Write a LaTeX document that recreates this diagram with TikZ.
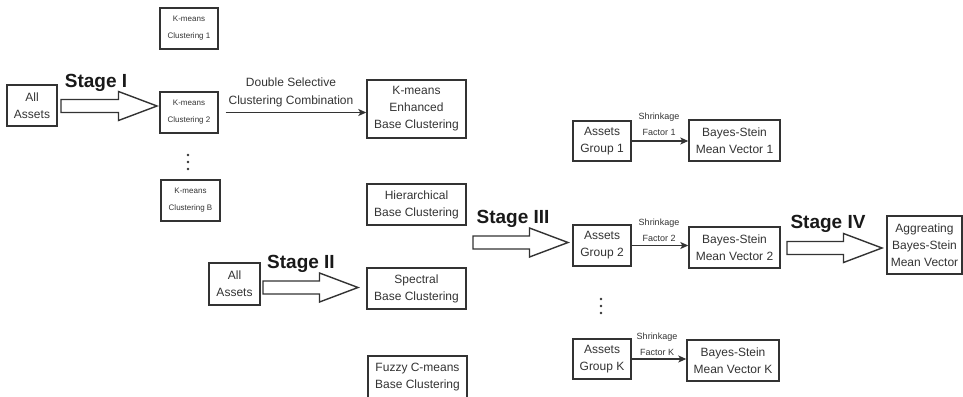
\documentclass[tikz,border=0pt]{standalone}
\usepackage{fontspec}
\setmainfont{Liberation Sans}
\usetikzlibrary{arrows.meta,calc}
\definecolor{ink}{HTML}{333333}
\newcommand\blockarrow[2]{%
  \draw[barrow] let \p1=(#1), \p2=(#2) in
   (\x1,\y1+6.5pt) -- (\x2-38.5pt,\y1+6.5pt) -- (\x2-38.5pt,\y1+14.5pt) -- (\x2,\y1)
   -- (\x2-38.5pt,\y1-14.5pt) -- (\x2-38.5pt,\y1-6.5pt) -- (\x1,\y1-6.5pt) -- cycle;}
\begin{document}
\begin{tikzpicture}[x=1pt,y=-1pt,
  box/.style={draw=ink, line width=1.4pt, align=center, inner sep=0pt, text=ink,
              font=\fontsize{12}{17}\selectfont},
  smallbox/.style={box, font=\fontsize{8}{17}\selectfont},
  lbl/.style={text=ink, align=center, inner sep=0pt, font=\fontsize{12}{18}\selectfont},
  shrink/.style={text=ink, align=center, inner sep=0pt, font=\fontsize{9}{16}\selectfont},
  stagelbl/.style={font=\fontsize{19}{22}\selectfont\bfseries, text=black!90, inner sep=0pt, anchor=base},
  conn/.style={draw=ink, line width=1.2pt, -{Stealth[length=8pt,width=7pt,inset=2pt]}},
  barrow/.style={draw=ink, line width=1.4pt, fill=white, line join=miter},
]
\useasboundingbox (0,0) rectangle (963,396);

% Stage I
\node[box, minimum width=50pt, minimum height=41pt] (aa1) at (32,105.5) {All\\Assets};
\node[smallbox, minimum width=58pt, minimum height=41pt] (kc1) at (189,28.5) {K-means\\Clustering 1};
\node[smallbox, minimum width=58pt, minimum height=41pt] (kc2) at (189,112.5) {K-means\\Clustering 2};
\node[smallbox, minimum width=59pt, minimum height=41pt] (kcb) at (190.5,200.5) {K-means\\Clustering B};
\node[box, minimum width=99pt, minimum height=58pt] (ke) at (416.5,109) {K-means\\Enhanced\\Base Clustering};
\fill[ink] (188,155) circle (1.3) (188,162) circle (1.3) (188,169) circle (1.3);
\coordinate (s1a) at (61,106);
\coordinate (s1b) at (157,106);
\blockarrow{s1a}{s1b}
\node[stagelbl] (st1) at (96,87) {Stage I};
\draw[conn, shorten <=7pt] (kc2.east) -- (kc2.east -| ke.west);
\node[lbl] (dsc) at (291,92) {Double Selective\\Clustering Combination};

% Stage II
\node[box, minimum width=51pt, minimum height=42pt] (aa2) at (234.5,284) {All\\Assets};
\node[box, minimum width=99pt, minimum height=41pt] (hb) at (416.5,204.5) {Hierarchical\\Base Clustering};
\node[box, minimum width=99pt, minimum height=41pt] (sb) at (416.5,288.5) {Spectral\\Base Clustering};
\node[box, minimum width=99pt, minimum height=42pt] (fb) at (417.5,377) {Fuzzy C-means\\Base Clustering};
\coordinate (s2a) at (263,287.5);
\coordinate (s2b) at (358,287.5);
\blockarrow{s2a}{s2b}
\node[stagelbl] (st2) at (301,268) {Stage II};

% Stage III
\coordinate (s3a) at (473,242.5);
\coordinate (s3b) at (568,242.5);
\blockarrow{s3a}{s3b}
\node[stagelbl] (st3) at (513,223) {Stage III};
\node[box, minimum width=58pt, minimum height=40pt] (g1) at (602,141) {Assets\\Group 1};
\node[box, minimum width=58pt, minimum height=41pt] (g2) at (602,245.5) {Assets\\Group 2};
\node[box, minimum width=58pt, minimum height=40pt] (gk) at (602,359) {Assets\\Group K};
\node[box, minimum width=91pt, minimum height=41pt] (bs1) at (734.5,140.5) {Bayes-Stein\\Mean Vector 1};
\node[box, minimum width=91pt, minimum height=41pt] (bs2) at (734.5,247.5) {Bayes-Stein\\Mean Vector 2};
\node[box, minimum width=92pt, minimum height=41pt] (bsk) at (733,360.5) {Bayes-Stein\\Mean Vector K};
\draw[conn] (g1.east) -- (g1.east -| bs1.west);
\draw[conn] (g2.east) -- (g2.east -| bs2.west);
\draw[conn] (gk.east) -- (gk.east -| bsk.west);
\node[shrink] (sf1) at (659,124) {Shrinkage\\Factor 1};
\node[shrink] (sf2) at (659,230) {Shrinkage\\Factor 2};
\node[shrink] (sfk) at (657,344) {Shrinkage\\Factor K};
\fill[ink] (601,299) circle (1.3) (601,306) circle (1.3) (601,313) circle (1.3);

% Stage IV
\coordinate (s4a) at (787,248);
\coordinate (s4b) at (882,248);
\blockarrow{s4a}{s4b}
\node[stagelbl] (st4) at (828,228) {Stage IV};
\node[box, minimum width=75pt, minimum height=58pt] (agg) at (924.5,245) {Aggreating\\Bayes-Stein\\Mean Vector};
\end{tikzpicture}
\end{document}
